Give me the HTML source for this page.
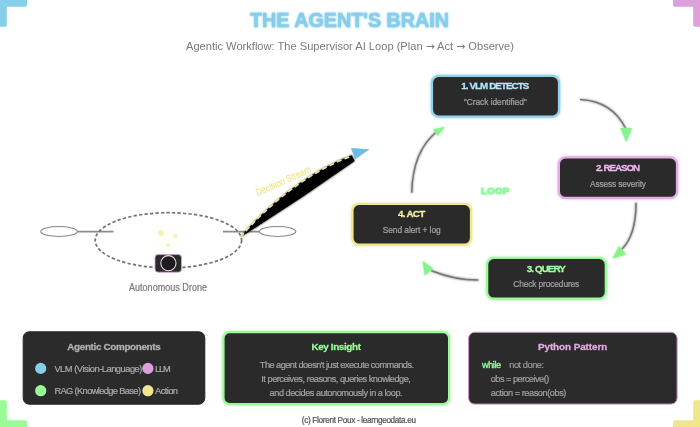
<!DOCTYPE html>
<html><head><meta charset="utf-8">
<style>
html,body{margin:0;padding:0;background:#fff;}
svg{display:block;opacity:.999}
text{font-family:"Liberation Sans",sans-serif;fill:currentColor;stroke:currentColor;stroke-width:.22px;stroke-linejoin:round}
.b{font-weight:bold;stroke-width:.28px}
.t{stroke-width:.5px}
.n{stroke-width:0}
</style></head>
<body>
<svg width="700" height="427" viewBox="0 0 700 427">
<defs>
<filter id="glow" x="-20%" y="-20%" width="140%" height="140%"><feGaussianBlur stdDeviation="1.4" result="b"/><feMerge><feMergeNode in="b"/><feMergeNode in="SourceGraphic"/></feMerge></filter>
<filter id="sg" x="-20%" y="-40%" width="140%" height="180%"><feGaussianBlur stdDeviation="0.9" result="b"/><feMerge><feMergeNode in="b"/><feMergeNode in="SourceGraphic"/></feMerge></filter>
<radialGradient id="yg"><stop offset="0" stop-color="#F0E68C" stop-opacity="0.07"/><stop offset="0.7" stop-color="#F0E68C" stop-opacity="0.035"/><stop offset="1" stop-color="#F0E68C" stop-opacity="0"/></radialGradient>
</defs>
<rect width="700" height="427" fill="#fff"/>
<!-- corners -->
<g fill="#87CEEB"><rect x="-7" y="-7" width="34" height="13.8" rx="1.8"/><rect x="-7" y="-7" width="13.8" height="33.8" rx="1.8"/></g>
<g fill="#DDA0DD"><rect x="673" y="-7" width="34" height="13.8" rx="1.8"/><rect x="693.2" y="-7" width="13.8" height="33.8" rx="1.8"/></g>
<g fill="#98FB98"><rect x="-7" y="420.2" width="34" height="13.8" rx="1.8"/><rect x="-7" y="400.2" width="13.8" height="33.8" rx="1.8"/></g>
<g fill="#F0E68C"><rect x="673" y="420.2" width="34" height="13.8" rx="1.8"/><rect x="693.2" y="400.2" width="13.8" height="33.8" rx="1.8"/></g>

<!-- header -->
<text class="b t" x="349.5" y="26.7" font-size="19.5" color="#87CEEB" text-anchor="middle" textLength="199" lengthAdjust="spacingAndGlyphs" filter="url(#sg)">THE AGENT'S BRAIN</text>
<text class="n" x="350" y="49.5" font-size="11.4" color="#7a7a7a" text-anchor="middle" textLength="328" lengthAdjust="spacingAndGlyphs">Agentic Workflow: The Supervisor AI Loop (Plan <tspan font-family="DejaVu Sans" font-size="11">→</tspan> Act <tspan font-family="DejaVu Sans" font-size="11">→</tspan> Observe)</text>

<!-- drone -->
<g fill="none" stroke="#888">
<ellipse cx="59" cy="231.5" rx="18.3" ry="5" stroke-width="1.1" fill="#fff"/>
<ellipse cx="277.6" cy="231.5" rx="18.2" ry="5" stroke-width="1.1" fill="#fff"/>
<line x1="77.4" y1="231.6" x2="113.6" y2="231.6" stroke="#8c8c8c" stroke-width="1.9"/>
<line x1="223" y1="231.6" x2="259.3" y2="231.6" stroke="#8c8c8c" stroke-width="1.9"/>
<ellipse cx="168.4" cy="240.3" rx="73.2" ry="27.6" stroke="#727272" stroke-width="1.7" stroke-dasharray="3.3 2.2"/>
</g>
<circle cx="168" cy="237.5" r="18" fill="url(#yg)"/>
<circle cx="161" cy="233.1" r="2.8" fill="#F0E68C" opacity="0.65"/>
<circle cx="175.3" cy="236.2" r="1.9" fill="#F0E68C" opacity="0.6"/>
<circle cx="168.2" cy="245.2" r="1.9" fill="#F0E68C" opacity="0.6"/>
<rect x="155" y="254.6" width="26.5" height="17.6" rx="3.2" fill="#2a2a2a" stroke="#DDA0DD" stroke-width="0.8"/>
<circle cx="168.4" cy="263.2" r="7.6" fill="#1d1d21" stroke="#f3d3e8" stroke-width="1.1"/>
<text x="168" y="291.2" font-size="10.6" color="#7a7a7a" text-anchor="middle" textLength="78" lengthAdjust="spacingAndGlyphs">Autonomous Drone</text>

<!-- decision stream -->
<path d="M240.3,237.2 Q291,179 351.8,155.2 L354.6,161 Q298.7,200.6 240.3,237.2 Z" fill="#000" filter="url(#sg)"/>
<path d="M240.5,237 Q291,179 352,155.7" fill="none" stroke="#F0E68C" stroke-width="1.7" stroke-dasharray="5 3.2"/>
<polygon points="350.9,148.1 369.6,149.2 355.1,159.5" fill="#6fbde6"/>
<text x="284.6" y="183.9" font-size="9.8" color="#F0E68C" text-anchor="middle" textLength="59" lengthAdjust="spacingAndGlyphs" transform="rotate(-24 284.6 183.9)">Decision Stream</text>

<!-- loop arrows -->
<g fill="none" stroke="#777" stroke-width="1.5" stroke-linecap="round" filter="url(#sg)">
<path d="M580.6,99.5 Q612.4,101.4 625.6,128.5"/>
<path d="M636,203.2 Q636,235 622,249"/>
<path d="M477.9,280.1 Q455,280.2 431.5,270.8"/>
<path d="M411.8,192.3 Q412.6,152 436,132.2"/>
</g>
<g fill="#8af28c" filter="url(#sg)">
<polygon points="620.4,128 632,128 626.3,142.1"/>
<polygon points="619,246.2 626.1,254.6 612.5,258.4"/>
<polygon points="433.2,268.8 424.8,275.4 422.7,261.1"/>
<polygon points="433,129.4 437.6,135.8 445,127"/>
</g>
<text class="b" x="495.2" y="193.9" font-size="9.9" color="#8cf59a" text-anchor="middle" textLength="28.5" lengthAdjust="spacingAndGlyphs" filter="url(#sg)">LOOP</text>

<!-- loop boxes -->
<g filter="url(#glow)">
<rect x="432" y="76" width="127" height="40.5" rx="6.5" fill="#2a2a2a" stroke="#90d2ee" stroke-width="2.2"/>
<rect x="558.9" y="157.5" width="118.1" height="40.4" rx="6.5" fill="#2a2a2a" stroke="#e4acE4" stroke-width="2.2"/>
<rect x="487.2" y="258" width="118.6" height="40.7" rx="6.5" fill="#2a2a2a" stroke="#98FB98" stroke-width="2.2"/>
<rect x="352.5" y="204" width="118.5" height="40.7" rx="6.5" fill="#2a2a2a" stroke="#F0E68C" stroke-width="2.2"/>
</g>
<g text-anchor="middle" lengthAdjust="spacingAndGlyphs">
<text class="b" x="495.3" y="88.7" font-size="9.8" color="#b2e5f7" textLength="68">1. VLM DETECTS</text>
<text x="495.3" y="105" font-size="8.4" color="#a2a2a2" textLength="63">"Crack identified"</text>
<text class="b" x="618" y="171.1" font-size="9.8" color="#ecb8ec" textLength="44">2. REASON</text>
<text x="618" y="186.6" font-size="8.4" color="#a2a2a2" textLength="56">Assess severity</text>
<text class="b" x="546.3" y="271.6" font-size="9.8" color="#a8f8a8" textLength="39">3. QUERY</text>
<text x="546.3" y="286.9" font-size="8.4" color="#a2a2a2" textLength="66">Check procedures</text>
<text class="b" x="411.6" y="217.4" font-size="9.8" color="#f6f0a0" textLength="27.2">4. ACT</text>
<text x="411.7" y="233.1" font-size="8.4" color="#a2a2a2" textLength="58">Send alert + log</text>
</g>

<!-- bottom panels -->
<rect x="23.2" y="331.8" width="181.6" height="72.4" rx="6" fill="#2b2b2b" stroke="#232323" stroke-width="1"/>
<g filter="url(#glow)"><rect x="223.6" y="332.2" width="225.4" height="71.8" rx="6" fill="#2b2b2b" stroke="#98FB98" stroke-width="2"/></g>
<rect x="468.6" y="332.3" width="208.5" height="71.8" rx="6" fill="#2b2b2b" stroke="#c994c9" stroke-width="1"/>

<g lengthAdjust="spacingAndGlyphs">
<text class="b" x="114" y="350" font-size="9.9" color="#b0b0b0" text-anchor="middle" textLength="93.5">Agentic Components</text>
<circle cx="40.7" cy="368.4" r="5.6" fill="#87CEEB"/>
<text x="54.4" y="371.5" font-size="9.3" color="#aaa" textLength="88">VLM (Vision-Language)</text>
<circle cx="147.9" cy="368.4" r="5.6" fill="#DDA0DD"/>
<text x="155" y="371.5" font-size="9.3" color="#aaa" textLength="15.7">LLM</text>
<circle cx="40.7" cy="390.7" r="5.6" fill="#98FB98"/>
<text x="54.4" y="393.8" font-size="9.3" color="#aaa" textLength="86.6">RAG (Knowledge Base)</text>
<circle cx="147.9" cy="390.7" r="5.6" fill="#F0E68C"/>
<text x="155" y="393.8" font-size="9.3" color="#aaa" textLength="23">Action</text>

<text class="b" x="336.2" y="349.8" font-size="9.9" color="#98FB98" text-anchor="middle" textLength="49.5">Key Insight</text>
<g text-anchor="middle" font-size="9.2" color="#a2a2a2">
<text x="336.9" y="368.1" textLength="154.2">The agent doesn't just execute commands.</text>
<text x="336.1" y="381.9" textLength="149.6">It perceives, reasons, queries knowledge,</text>
<text x="336.1" y="395.6" textLength="133">and decides autonomously in a loop.</text>
</g>

<text class="b" x="572.6" y="350.2" font-size="9.9" color="#e2aae2" text-anchor="middle" textLength="69.3">Python Pattern</text>
<text x="482" y="368.1" font-size="9.2" color="#90f598" style="stroke-width:.4px" textLength="19.2">while</text>
<text x="509.2" y="368.1" font-size="9.2" color="#999" textLength="34.9">not done:</text>
<text x="490.7" y="381.7" font-size="9.2" color="#a0a0a0" textLength="58.6">obs = perceive()</text>
<text x="490.7" y="395.5" font-size="9.2" color="#a0a0a0" textLength="75.7">action = reason(obs)</text>

<text x="358.9" y="422.7" font-size="8.2" color="#555" text-anchor="middle" textLength="114.3">(c) Florent Poux - learngeodata.eu</text>
</g>
</svg>
</body></html>
